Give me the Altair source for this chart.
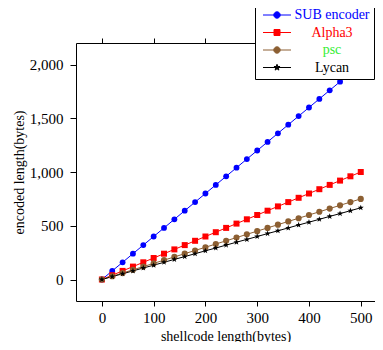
import altair as alt
import pandas as pd

# ---- data ----
x_vals = [0, 20, 40, 60, 80, 100, 120, 140, 160, 180, 200, 220, 240, 260,
          280, 300, 320, 340, 360, 380, 400, 420, 440, 460, 480, 500]
sub_encoder = [0, 80, 160, 240, 320, 400, 480, 560, 640, 720, 800, 880, 960, 1040,
               1120, 1200, 1280, 1360, 1440, 1520, 1600, 1680, 1760, 1840, 1920, 2000]
alpha3 = [0, 40, 80, 120, 160, 200, 240, 280, 320, 360, 400, 440, 480, 520,
          560, 600, 640, 680, 720, 760, 800, 840, 880, 920, 960, 1000]
psc = [0, 30, 60, 90, 120, 150, 180, 210, 240, 270, 300, 330, 360, 390,
       420, 450, 480, 510, 540, 570, 600, 630, 660, 690, 720, 750]
lycan = [0, 27, 53, 80, 107, 133, 160, 187, 213, 240, 267, 293, 320, 347,
         373, 400, 427, 453, 480, 507, 533, 560, 587, 613, 640, 667]

series_names = ["SUB encoder", "Alpha3", "psc", "Lycan"]
series_colors = ["#0000ff", "#ff0000", "#8c5f32", "#000000"]
label_colors = ["#0000ff", "#ff0000", "#33ee33", "#000000"]
x_ticks = [0, 100, 200, 300, 400, 500]
y_ticks = [0, 500, 1000, 1500, 2000]

FONT = "Liberation Serif"

STAR = ("M0,-1L0.235,-0.324L0.951,-0.309L0.38,0.124L0.588,0.809L0,0.4"
        "L-0.588,0.809L-0.38,0.124L-0.951,-0.309L-0.235,-0.324Z")
series_shapes = ["circle", "square", "circle", STAR]

# legend symbols: short line + marker
LEG_CIRCLE = "M-3.5,0H3.5M-0.8,0A0.8,0.8,0,1,1,0.8,0A0.8,0.8,0,1,1,-0.8,0Z"
LEG_SQUARE = "M-3.5,0H3.5M-0.75,-0.75H0.75V0.75H-0.75Z"
LEG_STAR = ("M-3.5,0H3.5M0,-0.8L0.19,-0.26L0.76,-0.25L0.3,0.1L0.47,0.65L0,0.32"
            "L-0.47,0.65L-0.3,0.1L-0.76,-0.25L-0.19,-0.26Z")
leg_paths = [LEG_CIRCLE, LEG_SQUARE, LEG_CIRCLE, LEG_STAR]

rows = []
for name, vals in zip(series_names, [sub_encoder, alpha3, psc, lycan]):
    for xv, yv in zip(x_vals, vals):
        rows.append({"series": name, "x": xv, "y": yv})
df = pd.DataFrame(rows)


def pick(values):
    expr = "'" + values[-1] + "'"
    for n, v in reversed(list(zip(series_names[:-1], values[:-1]))):
        expr = f"datum.value == '{n}' ? '{v}' : " + expr
    return alt.ExprRef(expr)


x_scale = alt.Scale(domain=[-50, 527.5], nice=False, zero=False)
y_scale = alt.Scale(domain=[-200, 2200], nice=False, zero=False)
color_scale = alt.Scale(domain=series_names, range=series_colors)

base = alt.Chart(df)

lines = base.mark_line(strokeWidth=1).encode(
    x=alt.X("x:Q", scale=x_scale,
            axis=alt.Axis(title="shellcode length(bytes)", values=x_ticks,
                          orient="bottom", grid=False, domain=True, domainColor="black",
                          tickSize=5, tickColor="black", labelPadding=4,
                          titleFontSize=14, titleY=28)),
    y=alt.Y("y:Q", scale=y_scale,
            axis=alt.Axis(title="encoded length(bytes)", values=y_ticks,
                          format=",d", orient="left", grid=False, domain=True,
                          domainColor="black",
                          tickSize=6, tickColor="black", labelPadding=7,
                          titleFontSize=14, titleX=-50, titleY=129)),
    color=alt.Color("series:N", scale=color_scale, sort=series_names,
                    legend=alt.Legend(
                        title=None, orient="none", legendX=179, legendY=-39,
                        fillColor="white", strokeColor="black", cornerRadius=0,
                        padding=4, rowPadding=3.5,
                        labelAlign="center", labelOffset=48, labelFontSize=14,
                        labelFont=FONT,
                        labelColor=pick(label_colors),
                        symbolSize=64, symbolOffset=11, symbolStrokeWidth=1,
                        symbolType=pick(leg_paths),
                        symbolFillColor=pick(series_colors),
                    )),
    detail="series:N",
)

points = base.mark_point(filled=True, opacity=1, strokeWidth=0).encode(
    x=alt.X("x:Q", scale=x_scale, axis=None),
    y=alt.Y("y:Q", scale=y_scale, axis=None),
    color=alt.Color("series:N", scale=color_scale, legend=None),
    shape=alt.Shape("series:N", scale=alt.Scale(domain=series_names, range=series_shapes),
                    legend=None),
    size=alt.Size("series:N", scale=alt.Scale(domain=series_names, range=[34, 40, 34, 40]),
                  legend=None),
    order=alt.Order("idx:Q"),
).transform_calculate(
    idx="indexof(['SUB encoder','Alpha3','psc','Lycan'], datum.series) * 1000 + datum.x"
)

top_axis = base.mark_point(opacity=0).encode(
    x=alt.X("x:Q", scale=x_scale,
            axis=alt.Axis(title=None, values=x_ticks, orient="top", labels=False,
                          grid=False, domain=True, domainColor="black",
                          tickSize=5, tickColor="black")),
    y=alt.Y("y:Q", scale=y_scale, axis=None),
)

chart = alt.layer(lines, points, top_axis).resolve_axis(
    x="independent", y="independent"
).resolve_legend(
    color="independent", shape="independent", size="independent"
).properties(
    width=299, height=258,
    autosize=alt.AutoSizeParams(type="none"),
    padding={"left": 68, "top": 35, "right": 0, "bottom": 41},
).configure(
    font=FONT,
).configure_view(
    stroke=None
).configure_axis(
    labelFont=FONT, titleFont=FONT,
    labelFontSize=15, titleFontSize=15, titleFontWeight="normal",
    labelColor="black", titleColor="black",
).configure_legend(
    labelFont=FONT,
)

chart.save("out.html", embed_options={"renderer": "svg", "actions": False})
